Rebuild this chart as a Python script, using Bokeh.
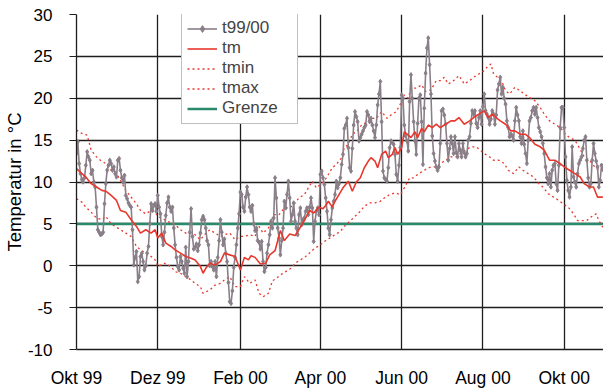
import pandas as pd
from bokeh.plotting import figure
from bokeh.models import (Range1d, FixedTicker, Legend, LegendItem)
from bokeh.embed import file_html
from bokeh.resources import INLINE

# ---------------- data ----------------
start_date = "1999-10-01"

# daily temperatures t99/00 (degC), one list per month
t_okt99 = [13.4, 14.8, 12.2, 11.0, 10.3, 10.0, 10.5, 12.0, 13.6, 13.0, 12.6, 11.0, 11.4, 10.0, 9.4, 7.0,
           4.3, 4.0, 3.7, 3.8, 4.0, 7.4, 9.8, 11.4, 12.0, 12.6, 12.2, 11.4, 11.8, 11.0, 10.6]
t_nov99 = [12.6, 12.8, 11.4, 10.5, 10.0, 10.8, 8.4, 8.0, 7.5, 7.2, 7.0, 4.3, 0.1, 1.0, 1.7, -1.9,
           -1.3, 1.1, 1.5, 0.5, -0.5, 0.0, 1.5, 2.3, 5.0, 7.4, 6.6, 7.2, 7.4, 6.5]
t_dez99 = [8.4, 7.0, 6.2, 3.5, 2.5, 4.0, 6.0, 7.5, 8.2, 7.0, 6.5, 7.0, 4.5, 2.5, 1.0, -0.1,
           -0.5, 1.1, 0.5, -0.3, -0.9, 2.2, -1.3, 0.5, 4.0, 6.8, 3.5, 2.0, 2.2, 2.6, 1.8]
t_jan00 = [2.5, 3.9, 5.5, 5.9, 5.5, 4.5, 3.0, 2.5, 0.0, 0.5, -0.1, -0.5, 0.5, -1.3, 1.0, 3.0,
           5.5, 4.0, 2.5, 3.2, 1.5, 0.5, -2.0, -4.3, -4.5, -3.0, -0.2, 1.0, 2.5, 4.5, 6.2]
t_feb00 = [8.8, 8.5, 7.0, 6.5, 8.2, 9.4, 8.5, 7.0, 6.5, 7.2, 5.0, 4.2, 4.5, 3.0, 2.8, 2.0,
           2.9, 0.5, -0.7, -0.2, 1.5, 2.5, 3.7, 5.3, 4.5, 5.7, 10.5, 8.1, 4.5]
t_mar00 = [3.3, 1.3, 3.0, 4.5, 7.7, 6.9, 8.5, 10.1, 8.1, 5.3, 6.1, 7.5, 5.3, 4.5, 3.7, 6.1,
           6.9, 4.9, 5.5, 5.7, 6.5, 6.9, 6.1, 7.0, 8.1, 6.9, 2.9, 5.3, 6.5, 6.9, 6.1]
t_apr00 = [10.9, 11.3, 10.5, 9.7, 8.1, 6.5, 4.5, 3.7, 5.5, 6.9, 7.7, 8.5, 10.1, 9.3, 9.8, 10.5,
           12.1, 13.3, 16.4, 16.8, 17.6, 14.1, 11.7, 11.3, 14.0, 16.8, 18.4, 17.8, 17.2, 14.9]
t_mai00 = [15.3, 15.7, 16.1, 16.5, 16.8, 18.4, 18.0, 17.2, 17.6, 16.8, 16.1, 15.3, 16.8, 19.2, 20.5, 22.0,
           17.2, 11.3, 10.5, 10.3, 10.1, 11.7, 14.1, 14.9, 14.7, 14.5, 13.3, 10.9, 10.1, 12.0, 14.1]
t_jun00 = [20.4, 20.0, 16.8, 15.5, 14.9, 13.7, 19.6, 22.8, 20.0, 17.2, 14.9, 13.3, 17.0, 20.0, 20.4, 17.2,
           12.1, 18.8, 23.0, 26.0, 27.2, 24.0, 20.5, 15.5, 13.4, 12.5, 11.8, 11.4, 11.8, 14.6]
t_jul00 = [18.5, 18.7, 18.0, 16.9, 14.6, 12.6, 14.0, 15.4, 14.6, 13.4, 15.4, 13.5, 13.0, 14.6, 13.8, 13.0,
           14.6, 13.5, 13.0, 13.4, 15.0, 15.4, 17.0, 18.5, 18.1, 18.5, 17.0, 16.5, 17.7, 18.5, 16.9]
t_aug00 = [19.0, 20.5, 18.5, 18.1, 17.7, 16.9, 17.5, 18.5, 18.1, 16.9, 18.0, 21.0, 21.7, 22.5, 20.5, 21.3,
           20.0, 19.3, 17.3, 16.5, 15.4, 15.7, 15.5, 15.0, 17.3, 18.9, 18.0, 17.3, 15.4, 14.6, 16.1]
t_sep00 = [14.5, 13.4, 12.2, 15.0, 17.3, 17.7, 18.5, 18.9, 18.1, 18.9, 17.7, 16.5, 16.0, 15.4, 14.6, 13.4,
           11.8, 10.5, 9.8, 11.0, 9.4, 11.4, 12.0, 12.2, 9.8, 9.0, 12.0, 16.5, 18.9, 18.9]
t_okt00 = [16.5, 13.0, 10.2, 9.0, 8.2, 9.4, 14.2, 10.6, 10.0, 9.4, 11.0, 12.2, 12.6, 13.0, 14.0, 15.0,
           15.4, 12.6, 10.5, 9.4, 9.8, 12.6, 14.6, 13.4, 12.5, 11.8, 9.4, 10.2, 12.0, 11.5]

# long-term daily mean / min / max (day number since start_date, degC)
tm_day = [0, 4, 7, 11, 15, 19, 22, 26, 30, 33, 37, 41, 45, 48, 52, 56, 59, 61, 64, 67, 71, 74, 78, 82, 86,
          89, 93, 95, 97, 100, 104, 108, 111, 115, 119, 123, 126, 129, 131, 134, 138, 142, 145, 149, 151,
          153, 156, 160, 164, 168, 171, 175, 178, 182, 185, 187, 189, 192, 194, 197, 200, 204, 207, 210,
          213, 216, 219, 221, 224, 226, 229, 232, 234, 237, 239, 241, 244, 246, 249, 251, 254, 256, 259,
          261, 264, 267, 270, 273, 277, 281, 284, 287, 291, 295, 298, 302, 306, 309, 312, 315, 318, 322,
          326, 329, 333, 337, 340, 344, 348, 351, 355, 359, 363, 366, 370, 374, 378, 381, 385, 388, 391, 395]
tm_val = [11.6, 11.0, 10.6, 9.8, 9.4, 9.0, 8.9, 8.4, 7.8, 6.6, 6.4, 5.5, 4.7, 3.9, 4.3, 3.9, 4.3, 3.3, 3.9,
          2.7, 2.3, 1.9, 1.5, 1.1, 0.9, 0.7, -0.1, -0.9, -0.3, 0.3, 0.1, 0.5, 1.5, 1.3, 1.1, -0.5, 1.0, 0.7,
          1.2, 1.0, 0.2, 0.3, 1.3, 1.8, 3.0, 4.2, 3.0, 3.8, 3.6, 4.6, 5.4, 6.6, 6.3, 7.0, 6.8, 7.2, 7.7, 7.0,
          7.7, 8.5, 9.3, 10.1, 8.9, 10.0, 10.5, 11.7, 12.5, 12.9, 12.5, 11.7, 13.3, 13.7, 12.9, 13.3, 14.1,
          13.3, 14.1, 16.0, 15.6, 15.3, 16.0, 15.3, 16.4, 16.0, 16.8, 16.5, 16.9, 16.5, 16.9, 17.3, 17.3,
          17.7, 16.9, 17.3, 17.7, 18.1, 18.5, 17.7, 18.1, 17.7, 17.3, 16.9, 16.1, 16.1, 15.7, 15.7, 15.3,
          14.5, 14.2, 13.8, 12.6, 12.6, 12.2, 11.8, 11.4, 11.0, 10.6, 9.8, 9.4, 9.4, 8.2, 8.2]

tmax_day = [0, 4, 8, 11, 15, 18, 22, 26, 30, 33, 37, 41, 45, 48, 52, 56, 59, 61, 66, 71, 74, 78, 82, 86, 89,
            93, 96, 100, 104, 108, 111, 115, 119, 123, 126, 130, 134, 137, 140, 144, 148, 152, 156, 160,
            163, 167, 171, 174, 177, 180, 183, 186, 189, 192, 195, 199, 201, 204, 207, 210, 214, 218, 221,
            225, 229, 233, 236, 240, 244, 246, 249, 251, 255, 259, 262, 266, 270, 273, 276, 279, 283, 287,
            291, 295, 298, 302, 306, 308, 311, 313, 316, 319, 322, 325, 329, 333, 336, 340, 344, 348, 351,
            355, 359, 363, 367, 370, 374, 377, 381, 385, 389, 392, 395]
tmax_val = [16.2, 15.8, 15.6, 13.8, 13.0, 12.6, 12.2, 11.4, 11.0, 10.2, 9.0, 8.2, 7.4, 6.6, 6.2, 6.6, 6.4,
            5.9, 5.5, 5.1, 4.9, 4.3, 3.9, 3.9, 3.7, 3.1, 3.7, 4.3, 3.9, 3.5, 3.7, 3.9, 3.1, 3.5, 3.5, 3.7,
            3.5, 4.7, 3.9, 4.5, 6.1, 6.1, 6.9, 6.9, 7.3, 8.1, 8.5, 9.3, 10.1, 9.3, 9.7, 10.1, 10.9, 11.7,
            12.1, 12.9, 14.1, 14.5, 15.7, 16.0, 16.8, 17.2, 17.6, 17.6, 18.4, 17.6, 18.0, 18.4, 19.6, 20.4,
            20.0, 21.2, 21.2, 21.6, 20.8, 21.0, 22.1, 22.1, 22.5, 21.7, 22.1, 22.7, 21.7, 22.1, 22.5, 22.9,
            23.3, 23.7, 24.1, 22.9, 22.5, 22.1, 20.9, 20.5, 21.3, 20.9, 20.5, 20.1, 19.7, 18.9, 18.1, 17.3,
            16.9, 16.5, 15.7, 15.3, 15.0, 14.2, 13.0, 12.6, 11.8, 11.4, 11.4]

tmin_day = [0, 4, 7, 11, 15, 19, 22, 26, 30, 33, 37, 41, 45, 48, 52, 56, 59, 61, 66, 71, 74, 78, 82, 86, 89,
            93, 95, 100, 104, 108, 111, 115, 119, 123, 126, 130, 134, 137, 140, 144, 147, 150, 153, 157,
            161, 164, 168, 172, 176, 179, 183, 186, 190, 194, 198, 201, 205, 209, 213, 216, 220, 224, 228,
            231, 235, 239, 243, 246, 250, 253, 256, 260, 264, 267, 270, 273, 277, 281, 285, 288, 292, 296,
            300, 303, 306, 310, 313, 317, 321, 324, 328, 332, 335, 339, 343, 347, 350, 354, 358, 362, 365,
            369, 373, 376, 379, 383, 386, 390, 392, 395]
tmin_val = [8.0, 7.6, 7.0, 6.4, 5.7, 5.5, 5.9, 5.0, 4.6, 4.3, 3.9, 3.5, 2.3, 1.9, 1.5, 1.1, 0.7, -0.1, 0.3,
            -0.1, -0.7, -0.9, -1.3, -1.7, -2.1, -2.5, -3.3, -2.9, -2.3, -2.1, -1.7, -1.3, -2.5, -2.5, -1.3,
            -2.1, -1.7, -3.3, -3.7, -3.3, -1.8, -1.5, -1.1, -0.7, -0.3, 0.3, 0.7, 1.1, 1.7, 2.1, 2.5, 2.9,
            3.3, 3.7, 4.1, 4.7, 5.3, 5.9, 6.5, 7.1, 7.5, 7.5, 7.7, 8.1, 8.5, 8.7, 8.5, 9.3, 10.5, 10.5, 10.9,
            11.3, 11.7, 11.8, 11.8, 12.2, 12.6, 13.0, 13.0, 13.4, 13.8, 14.2, 14.2, 13.8, 13.4, 13.0, 12.6,
            12.6, 12.2, 11.4, 11.0, 11.8, 11.4, 11.0, 10.6, 9.8, 9.4, 8.6, 8.2, 7.8, 7.4, 7.0, 6.2, 5.4, 5.4,
            5.4, 5.8, 6.2, 5.4, 4.6]

grenze = 5.0

month_starts = ["1999-10-01", "1999-12-01", "2000-02-01", "2000-04-01",
                "2000-06-01", "2000-08-01", "2000-10-01"]
month_labels = ["Okt 99", "Dez 99", "Feb 00", "Apr 00", "Jun 00", "Aug 00", "Okt 00"]
y_ticks = [-10, -5, 0, 5, 10, 15, 20, 25, 30]
y_labels = ["-10", "-5", "0", "5", "10", "15", "20", "25", "30"]

# ---------------- derived ----------------
t_all = (t_okt99 + t_nov99 + t_dez99 + t_jan00 + t_feb00 + t_mar00 + t_apr00 +
         t_mai00 + t_jun00 + t_jul00 + t_aug00 + t_sep00 + t_okt00)
days = list(range(len(t_all)))
t0 = pd.Timestamp(start_date)
tick_days = [int((pd.Timestamp(m) - t0).days) for m in month_starts]

FONT = "Liberation Sans"
GRAY = "#8a7f88"
RED = "#e8382d"
GREEN = "#2a8a6c"
GRID = "#1e1e1e"

p = figure(width=603, height=392, output_backend="svg", toolbar_location=None,
           x_range=Range1d(0, 395.5), y_range=Range1d(-10, 30),
           min_border_left=71, min_border_right=0, min_border_top=14, min_border_bottom=43)
p.outline_line_color = None
p.background_fill_color = "white"
p.border_fill_color = "white"

# axes
p.xaxis.ticker = FixedTicker(ticks=tick_days)
p.xaxis.major_label_overrides = {d: lab for d, lab in zip(tick_days, month_labels)}
p.xaxis.major_tick_line_color = None
p.xaxis.minor_tick_line_color = None
p.xaxis.axis_line_color = GRID
p.xaxis.axis_line_width = 1.3
p.xaxis.major_label_standoff = 12
p.xaxis.major_label_text_font = FONT
p.xaxis.major_label_text_font_size = "17.5px"
p.xaxis.major_label_text_color = "black"

p.yaxis.ticker = FixedTicker(ticks=y_ticks)
p.yaxis.major_label_overrides = {v: s for v, s in zip(y_ticks, y_labels)}
p.yaxis.major_tick_out = 7
p.yaxis.major_tick_in = 0
p.yaxis.major_tick_line_color = GRID
p.yaxis.minor_tick_line_color = None
p.yaxis.axis_line_color = GRID
p.yaxis.axis_line_width = 1.3
p.yaxis.major_label_standoff = 17
p.yaxis.major_label_text_font = FONT
p.yaxis.major_label_text_font_size = "17px"
p.yaxis.major_label_text_color = "black"
p.yaxis.axis_label = "Temperatur in °C"
p.yaxis.axis_label_text_font = FONT
p.yaxis.axis_label_text_font_size = "18.5px"
p.yaxis.axis_label_text_font_style = "normal"
p.yaxis.axis_label_text_color = "black"
p.yaxis.axis_label_standoff = 0

p.xgrid.ticker = FixedTicker(ticks=tick_days)
p.ygrid.ticker = FixedTicker(ticks=y_ticks)
for g in (p.xgrid, p.ygrid):
    g.grid_line_color = GRID
    g.grid_line_width = 1.3

# series
r_g = p.line(days, [grenze] * len(days), line_color=GREEN, line_width=2.5)
r_max = p.line(tmax_day, tmax_val, line_color=RED, line_width=1.3, line_dash="2 3")
r_min = p.line(tmin_day, tmin_val, line_color=RED, line_width=1.3, line_dash="2 3")
r_t = p.line(days, t_all, line_color=GRAY, line_width=1.6)
r_tp = p.scatter(days, t_all, marker="diamond", size=4.5, color=GRAY)
r_m = p.line(tm_day, tm_val, line_color=RED, line_width=1.6)

legend = Legend(items=[
    LegendItem(label="t99/00", renderers=[r_t, r_tp]),
    LegendItem(label="tm", renderers=[r_m]),
    LegendItem(label="tmin", renderers=[r_min]),
    LegendItem(label="tmax", renderers=[r_max]),
    LegendItem(label="Grenze", renderers=[r_g]),
], location=(105, 225))
legend.label_text_font = FONT
legend.label_text_font_size = "17px"
legend.label_height = 17
legend.glyph_height = 17
legend.glyph_width = 30
legend.label_standoff = 5
legend.spacing = 0
legend.padding = 5
legend.margin = 0
legend.label_width = 70
legend.border_line_color = "#808080"
legend.border_line_width = 1
legend.background_fill_color = "white"
legend.background_fill_alpha = 1.0
p.add_layout(legend, "center")

open("out.html", "w").write(file_html(p, INLINE))
